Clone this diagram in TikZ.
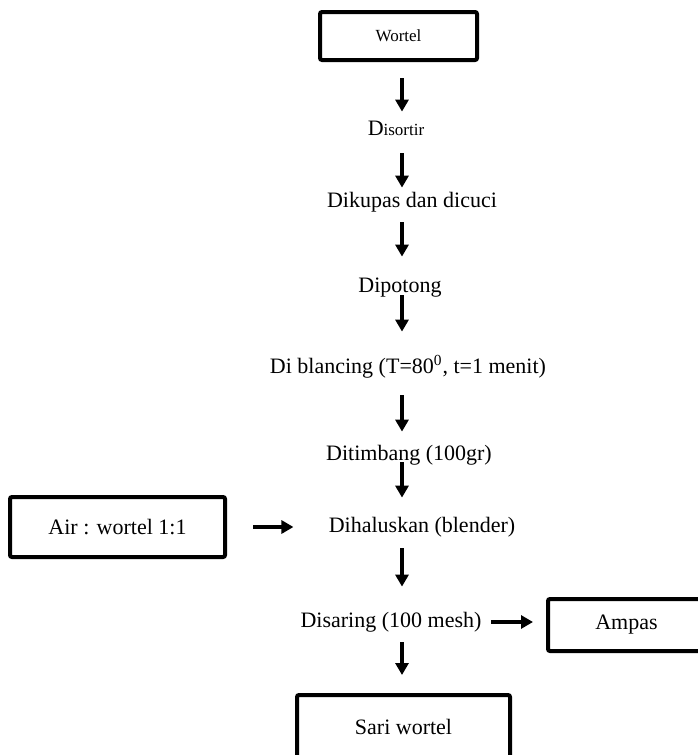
\documentclass[tikz,border=0pt]{standalone}
\usepackage{fontspec}
\setmainfont{Liberation Serif}
\usetikzlibrary{arrows.meta}
\begin{document}
\begin{tikzpicture}[x=0.5pt,y=-0.5pt,
        box/.style={draw,line width=2pt,rounded corners=1pt,inner sep=0pt,font=\fontsize{11}{13}\selectfont},
        stage/.style={inner sep=0pt,text height=7.5pt,text depth=2.5pt,font=\fontsize{11}{13}\selectfont},
        arr/.style={line width=1.6pt,-{Triangle[length=6pt,width=6.5pt]}}]
  \useasboundingbox (0,0) rectangle (697,755);
  \coordinate (trunk) at (402,0);
  % boxes
  \node[box,minimum width=78.5pt,minimum height=24pt,font=\fontsize{8.5}{10}\selectfont] (wortel) at (398.5,36) {Wortel};
  \node[box,minimum width=107.5pt,minimum height=30pt] (air) at (117.5,527) {Air : wortel 1:1};
  \node[box,minimum width=78.5pt,minimum height=26pt] (ampas) at (626.5,625) {Ampas};
  \node[box,minimum width=106.5pt,minimum height=32pt] (sari) at (403.5,727) {Sari wortel};
  % steps
  \node[stage] (sortir) at (396,130) {D{\fontsize{8.5}{10}\selectfont isortir}};
  \node[stage] (kupas) at (412,202) {Dikupas dan dicuci};
  \node[stage] (potong) at (400,287) {Dipotong};
  \node[stage] (blancing) at (408,368) {Di blancing (T=80\textsuperscript{0}, t=1 menit)};
  \node[stage] (timbang) at (409,455) {Ditimbang (100gr)};
  \node[stage] (haluskan) at (422,527) {Dihaluskan (blender)};
  \node[stage] (saring) at (391,622) {Disaring (100 mesh)};
  % arrows
  \draw[arr,shorten <=8pt,shorten >=4pt] (trunk |- wortel.south) -- (trunk |- sortir.north);
  \draw[arr,shorten <=6.5pt,shorten >=2pt] (trunk |- sortir.south) -- (trunk |- kupas.north);
  \draw[arr,shorten <=5pt,shorten >=10pt] (trunk |- kupas.south) -- (trunk |- potong.north);
  \draw[arr,shorten <=-1pt,shorten >=13pt] (trunk |- potong.south) -- (trunk |- blancing.north);
  \draw[arr,shorten <=8.5pt,shorten >=6.5pt] (trunk |- blancing.south) -- (trunk |- timbang.north);
  \draw[arr,shorten <=-1.5pt,shorten >=9.5pt] (trunk |- timbang.south) -- (trunk |- haluskan.north);
  \draw[arr,shorten <=5.5pt,shorten >=12.5pt] (trunk |- haluskan.south) -- (trunk |- saring.north);
  \draw[arr,shorten <=5pt,shorten >=9pt] (trunk |- saring.south) -- (trunk |- sari.north);
  \draw[arr,shorten <=13pt,shorten >=17.5pt] (air.east) -- (air.east -| haluskan.west);
  \draw[arr,shorten <=4.75pt,shorten >=6.5pt] (saring.east) -- (saring.east -| ampas.west);
\end{tikzpicture}
\end{document}
